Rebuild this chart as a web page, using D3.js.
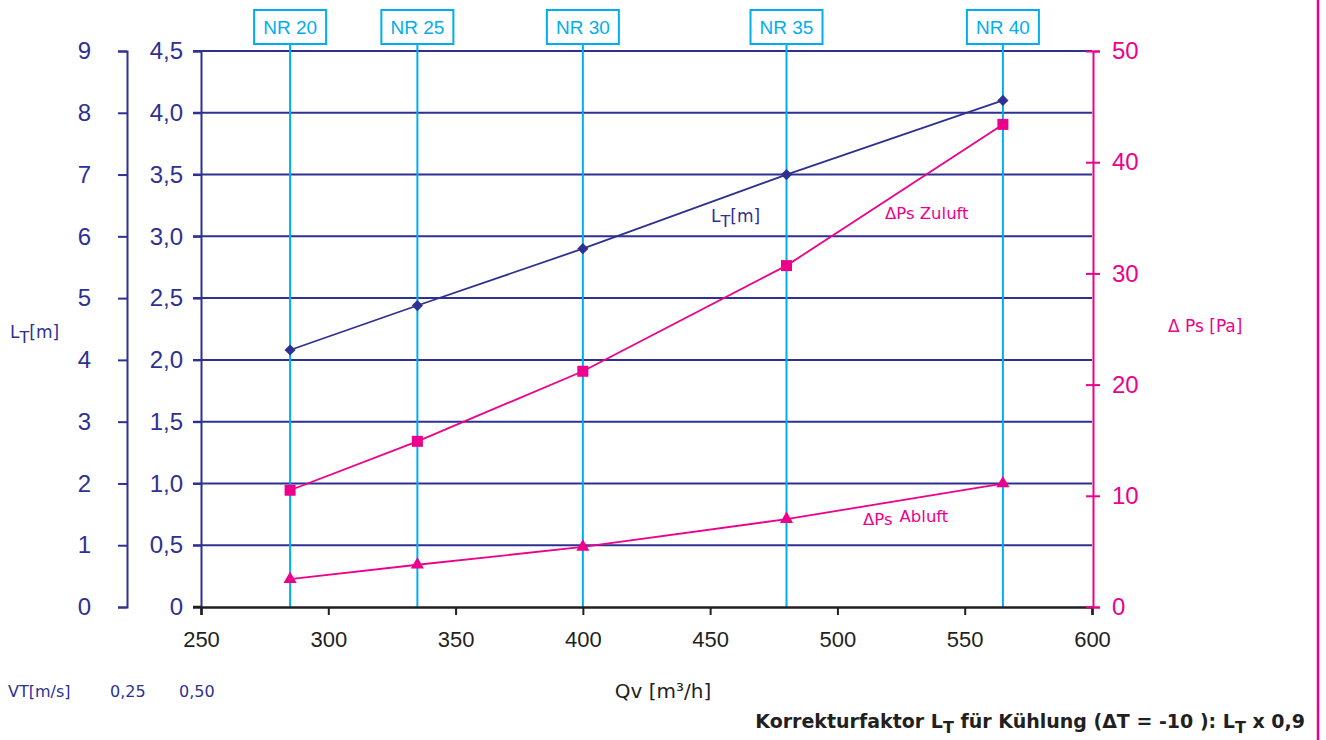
<!DOCTYPE html>
<html lang="de">
<head>
    <meta charset="UTF-8">
    <title>LT / ΔPs Diagramm</title>
    <script src="https://d3js.org/d3.v7.min.js"></script>
    <style>
        body { margin: 0; padding: 0; background: #fff; }
        svg { display: block; font-family: "Liberation Sans", Arial, sans-serif; }
        .wide { font-family: "DejaVu Sans", sans-serif; }
    </style>
</head>
<body>
<svg id="chart" width="1326" height="740"></svg>
<script>
    // Daten
    const qv = [285, 335, 400, 480, 565];
    const nrLabels = ['NR 20', 'NR 25', 'NR 30', 'NR 35', 'NR 40'];
    const ltValues = [2.08, 2.44, 2.90, 3.50, 4.10];
    const zuluftValues = [10.5, 14.9, 21.2, 30.7, 43.4];
    const abluftValues = [2.5, 3.8, 5.4, 7.9, 11.1];
    const xTicks = [250, 300, 350, 400, 450, 500, 550, 600];
    const ltTicks = [0, 0.5, 1, 1.5, 2, 2.5, 3, 3.5, 4, 4.5];
    const outerTicks = [0, 1, 2, 3, 4, 5, 6, 7, 8, 9];
    const paTicks = [0, 10, 20, 30, 40, 50];
    const vtLabels = ['0,25', '0,50'];

    // Farben
    const navy = '#2e3192';
    const magenta = '#ec008c';
    const cyan = '#00aeef';
    const black = '#231f20';

    const svg = d3.select('#chart');
    const plotLeft = 201, plotRight = 1092, plotTop = 51, plotBottom = 607;

    const x = d3.scaleLinear().domain([250, 600]).range([plotLeft, plotRight]);
    const yL = d3.scaleLinear().domain([0, 4.5]).range([plotBottom, plotTop]);
    const yOuter = d3.scaleLinear().domain([0, 9]).range([plotBottom, plotTop]);
    const yR = d3.scaleLinear().domain([0, 50]).range([plotBottom, plotTop]);

    const fmt = d => d === 0 ? '0' : d3.format('.1f')(d).replace('.', ',');

    // Gitterlinien
    svg.append('g').selectAll('line')
        .data(ltTicks.filter(d => d > 0))
        .enter().append('line')
        .attr('x1', plotLeft - 8).attr('x2', plotRight)
        .attr('y1', d => yL(d)).attr('y2', d => yL(d))
        .attr('stroke', navy).attr('stroke-width', 2);

    // NR Linien und Kästen
    const nr = svg.append('g');
    nr.selectAll('line')
        .data(qv)
        .enter().append('line')
        .attr('x1', d => x(d)).attr('x2', d => x(d))
        .attr('y1', 44).attr('y2', plotBottom)
        .attr('stroke', cyan).attr('stroke-width', 2);
    nr.selectAll('rect')
        .data(qv)
        .enter().append('rect')
        .attr('x', d => x(d) - 36).attr('y', 10)
        .attr('width', 72).attr('height', 34)
        .attr('fill', '#fff').attr('stroke', cyan).attr('stroke-width', 2);
    nr.selectAll('text')
        .data(qv)
        .enter().append('text')
        .attr('x', d => x(d)).attr('y', 34)
        .attr('text-anchor', 'middle')
        .attr('font-size', 19).attr('fill', cyan)
        .text((d, i) => nrLabels[i]);

    // linke innere Achse
    const axL = svg.append('g')
        .attr('transform', `translate(${plotLeft},0)`)
        .call(d3.axisLeft(yL).tickValues(ltTicks).tickFormat(fmt).tickSize(8).tickPadding(10));
    axL.select('.domain').attr('stroke', navy).attr('stroke-width', 2);
    axL.selectAll('.tick line').attr('stroke', navy).attr('stroke-width', 2);
    axL.selectAll('text').attr('fill', navy).attr('font-size', 24)
        .attr('font-family', '"Liberation Sans", Arial, sans-serif');

    // linke äußere Achse
    const axO = svg.append('g')
        .attr('transform', 'translate(127,0)')
        .call(d3.axisLeft(yOuter).tickValues(outerTicks).tickSize(9).tickPadding(27));
    axO.select('.domain').attr('stroke', navy).attr('stroke-width', 2);
    axO.selectAll('.tick line').attr('stroke', navy).attr('stroke-width', 2);
    axO.selectAll('text').attr('fill', navy).attr('font-size', 24)
        .attr('font-family', '"Liberation Sans", Arial, sans-serif');

    // x Achse
    const axX = svg.append('g')
        .attr('transform', `translate(0,${plotBottom})`)
        .call(d3.axisBottom(x).tickValues(xTicks).tickSize(8).tickPadding(16));
    axX.select('.domain').attr('stroke', black).attr('stroke-width', 2.5);
    axX.selectAll('.tick line').attr('stroke', black).attr('stroke-width', 2);
    axX.selectAll('text').attr('fill', black).attr('font-size', 22)
        .attr('font-family', '"Liberation Sans", Arial, sans-serif');
    svg.append('line')
        .attr('x1', plotLeft - 8).attr('x2', plotLeft)
        .attr('y1', plotBottom).attr('y2', plotBottom)
        .attr('stroke', black).attr('stroke-width', 2.5);

    // rechte Achse
    const axR = svg.append('g')
        .attr('transform', `translate(${plotRight + 1},0)`)
        .call(d3.axisRight(yR).tickValues(paTicks).tickSize(7).tickPadding(12));
    axR.select('.domain').attr('stroke', magenta).attr('stroke-width', 2);
    axR.selectAll('.tick line').attr('x1', -7).attr('stroke', magenta).attr('stroke-width', 2);
    axR.selectAll('text').attr('fill', magenta).attr('font-size', 24)
        .attr('font-family', '"Liberation Sans", Arial, sans-serif');

    // Linien
    const lineL = d3.line().x((d, i) => x(qv[i])).y(d => yL(d));
    const lineR = d3.line().x((d, i) => x(qv[i])).y(d => yR(d));

    svg.append('path').datum(ltValues)
        .attr('d', lineL).attr('fill', 'none')
        .attr('stroke', navy).attr('stroke-width', 1.8);
    svg.append('path').datum(zuluftValues)
        .attr('d', lineR).attr('fill', 'none')
        .attr('stroke', magenta).attr('stroke-width', 1.8);
    svg.append('path').datum(abluftValues)
        .attr('d', lineR).attr('fill', 'none')
        .attr('stroke', magenta).attr('stroke-width', 1.8);

    // Marker
    svg.append('g').selectAll('path')
        .data(ltValues)
        .enter().append('path')
        .attr('d', d3.symbol().type(d3.symbolDiamond2).size(80))
        .attr('transform', (d, i) => `translate(${x(qv[i])},${yL(d)})`)
        .attr('fill', navy);
    svg.append('g').selectAll('rect')
        .data(zuluftValues)
        .enter().append('rect')
        .attr('x', (d, i) => x(qv[i]) - 5.5).attr('y', d => yR(d) - 5.5)
        .attr('width', 11).attr('height', 11)
        .attr('fill', magenta);
    svg.append('g').selectAll('path')
        .data(abluftValues)
        .enter().append('path')
        .attr('d', d3.symbol().type(d3.symbolTriangle).size(75))
        .attr('transform', (d, i) => `translate(${x(qv[i])},${yR(d)})`)
        .attr('fill', magenta);

    // Beschriftungen im Diagramm
    const ltLabel = svg.append('text').attr('class', 'wide')
        .attr('x', 711).attr('y', 222)
        .attr('font-size', 17).attr('fill', navy);
    ltLabel.append('tspan').text('L');
    ltLabel.append('tspan').attr('dy', 5).attr('font-size', 16).text('T');
    ltLabel.append('tspan').attr('dy', -5).text('[m]');

    svg.append('text').attr('class', 'wide')
        .attr('x', 885).attr('y', 219)
        .attr('font-size', 16.5).attr('fill', magenta)
        .text('ΔPs Zuluft');

    const ab = svg.append('text').attr('class', 'wide')
        .attr('x', 863).attr('y', 522)
        .attr('font-size', 16.5).attr('fill', magenta);
    ab.append('tspan').attr('dy', 3).text('ΔPs');
    ab.append('tspan').attr('dy', -3).attr('dx', 7).text('Abluft');

    // Achsentitel
    const ltAxis = svg.append('text').attr('class', 'wide')
        .attr('x', 10).attr('y', 338)
        .attr('font-size', 17).attr('fill', navy);
    ltAxis.append('tspan').text('L');
    ltAxis.append('tspan').attr('dy', 5).attr('font-size', 16).text('T');
    ltAxis.append('tspan').attr('dy', -5).text('[m]');

    svg.append('text').attr('class', 'wide')
        .attr('x', 1168).attr('y', 332)
        .attr('font-size', 17).attr('fill', magenta)
        .text('Δ Ps [Pa]');

    svg.append('text').attr('class', 'wide')
        .attr('x', 663).attr('y', 698)
        .attr('text-anchor', 'middle')
        .attr('font-size', 20).attr('fill', black)
        .text('Qv [m³/h]');

    svg.append('text').attr('class', 'wide')
        .attr('x', 8).attr('y', 697)
        .attr('font-size', 16).attr('fill', navy)
        .text('VT[m/s]');
    svg.append('g').selectAll('text')
        .data(vtLabels)
        .enter().append('text').attr('class', 'wide')
        .attr('x', (d, i) => 110 + i * 69).attr('y', 697)
        .attr('font-size', 16).attr('fill', navy)
        .text(d => d);

    // Korrekturfaktor
    const kf = svg.append('text').attr('class', 'wide')
        .attr('x', 1305).attr('y', 728)
        .attr('text-anchor', 'end')
        .attr('font-size', 19).attr('font-weight', 'bold').attr('fill', black);
    kf.append('tspan').text('Korrekturfaktor L');
    kf.append('tspan').attr('dy', 5).attr('font-size', 16).text('T');
    kf.append('tspan').attr('dy', -5).text(' für Kühlung (ΔT = -10 ): L');
    kf.append('tspan').attr('dy', 5).attr('font-size', 16).text('T');
    kf.append('tspan').attr('dy', -5).text(' x 0,9');

    // rechte Randlinie
    svg.append('line')
        .attr('x1', 1318).attr('x2', 1318)
        .attr('y1', 0).attr('y2', 740)
        .attr('stroke', magenta).attr('stroke-width', 2.5);
</script>
</body>
</html>
